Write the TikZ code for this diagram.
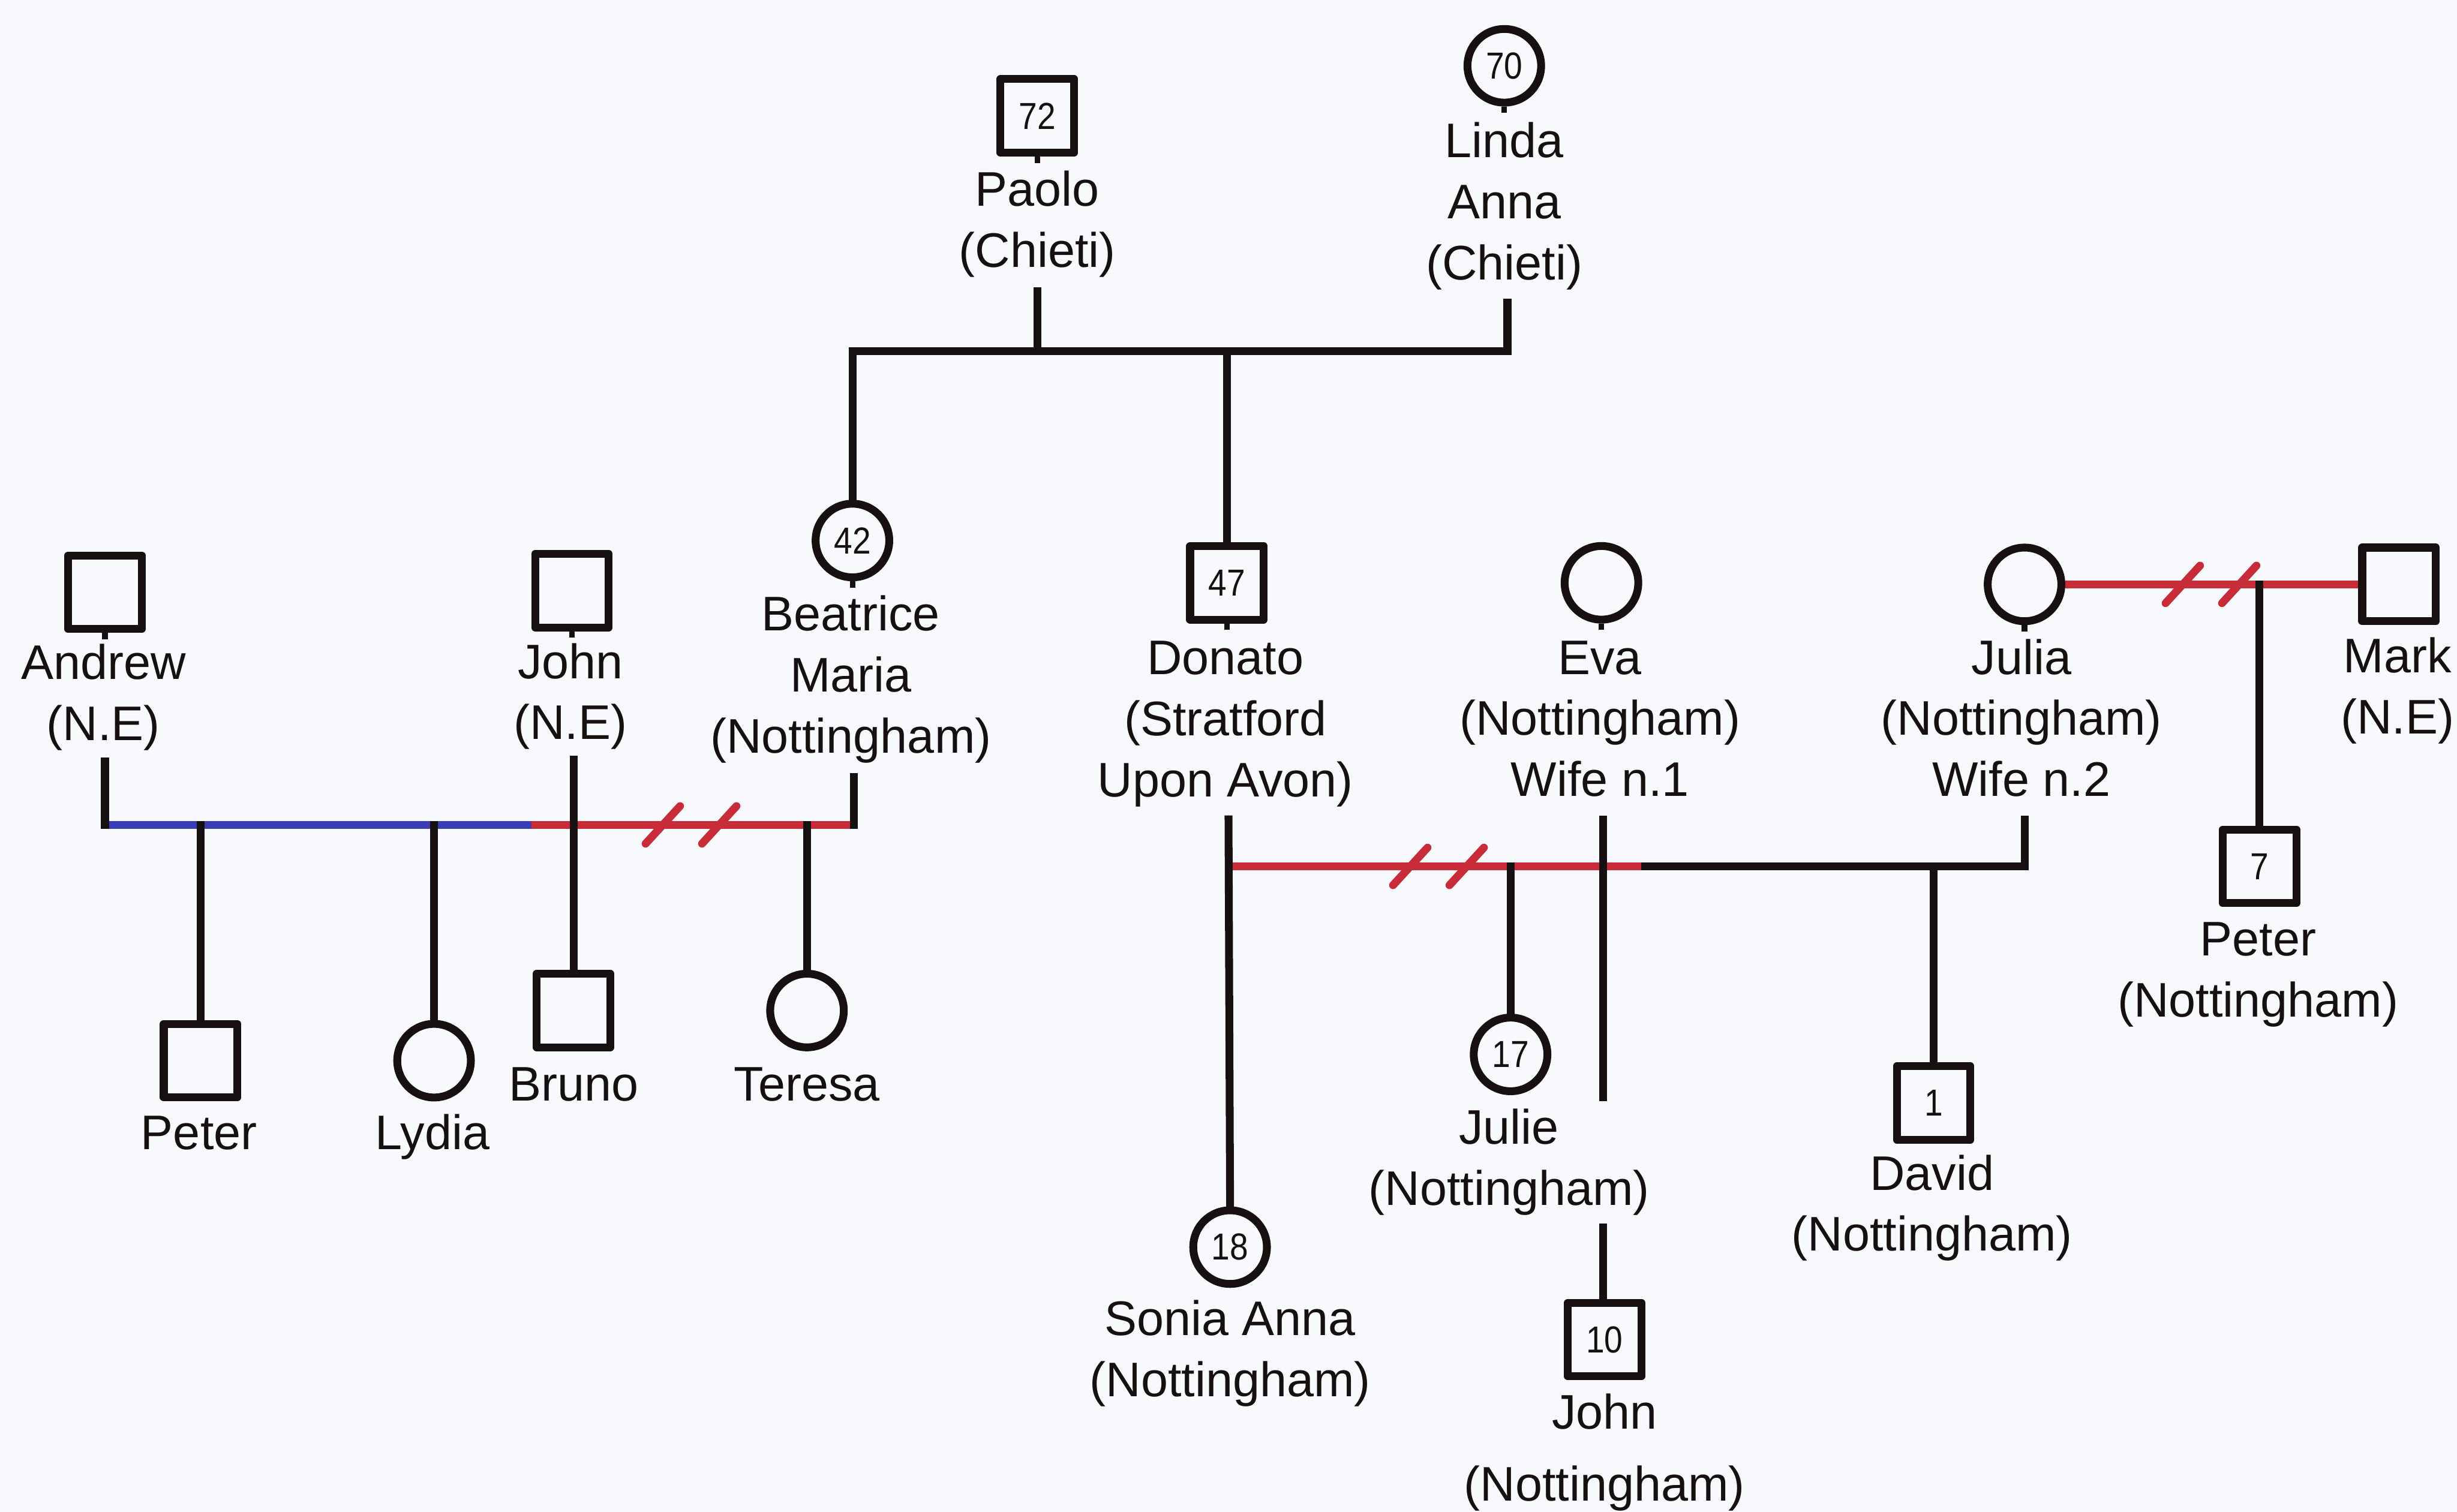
\documentclass[tikz,border=0pt]{standalone}
\usepackage{fontspec}
\setmainfont{Liberation Sans}
\newfontfamily\agefont{Liberation Sans}[FakeStretch=0.88]

\definecolor{pagebg}{RGB}{248,249,252}
\definecolor{ink}{RGB}{22,16,16}
\definecolor{divorced}{RGB}{200,44,56}
\definecolor{firstunion}{RGB}{58,62,178}

\pgfdeclarelayer{paper}
\pgfdeclarelayer{lines}
\pgfsetlayers{paper,lines,main}

% several centred lines whose baseline is the first line's
\newcommand{\namestack}[1]{\begin{tabular}[t]{@{}c@{}}#1\end{tabular}}
% the double slash of a separated couple
\newcommand{\divorcemark}[1]{\draw[hatch] ([shift={(-11,12)}]#1) -- ([shift={(11,-12)}]#1);}

\tikzset{
  person/.style={draw=ink, line width=5pt, fill=pagebg, inner sep=0pt,
    minimum size=47pt, text=ink, line join=round,
    font=\agefont\fontsize{24}{24}\selectfont},
  male/.style={person, rectangle},
  female/.style={person, circle},
  who/.style={anchor=base, inner sep=0pt, text=ink,
    font=\fontsize{31}{39}\selectfont},
  link/.style={draw=ink, line width=5pt, line cap=rect},
  firstlink/.style={draw=firstunion, line width=5pt},
  split/.style={draw=divorced, line width=5pt},
  hatch/.style={draw=divorced, line width=5pt, line cap=round},
  nub/.style={draw=ink, line width=3.5pt}
}

\begin{document}
\begin{tikzpicture}[x=1pt,y=-1pt]
\begin{pgfonlayer}{paper}
  \fill[pagebg] (0,0) rectangle (1568,965);
\end{pgfonlayer}
\useasboundingbox (0,0) rectangle (1568,965);

% ---------- people ----------
\node[male]   (paolo)    at (662,74)   {72};
\node[female] (linda)    at (960,42)   {70};
\node[female] (beatrice) at (544,345)  {42};
\node[male]   (donato)   at (783,372)  {47};
\node[male]   (andrew)   at (67,378)   {};
\node[male]   (johnNE)   at (365,377)  {};
\node[female] (eva)      at (1022,372) {};
\node[female] (julia)    at (1292,373) {};
\node[male]   (mark)     at (1531,373) {};
\node[male]   (peterA)   at (128,677)  {};
\node[female] (lydia)    at (277,677)  {};
\node[male]   (bruno)    at (366,645)  {};
\node[female] (teresa)   at (515,645)  {};
\node[female] (julie)    at (964,673)  {17};
\node[male]   (david)    at (1234,704) {1};
\node[female] (sonia)    at (785,796)  {18};
\node[male]   (johnB)    at (1024,855) {10};
\node[male]   (peterB)   at (1442,553) {7};

% small stubs under the symbols
\foreach \p in {paolo,linda,beatrice,donato,andrew,johnNE,eva,julia}
  \draw[nub] (\p.south) -- ++(0,4);

% ---------- names ----------
\node[who] (paolo-l)    at (662,131.5)  {\namestack{Paolo\\(Chieti)}};
\node[who] (linda-l)    at (960,100.5)  {\namestack{Linda\\Anna\\(Chieti)}};
\node[who] (beatrice-l) at (543,402.5)  {\namestack{Beatrice\\Maria\\(Nottingham)}};
\node[who] (donato-l)   at (782,430.5)  {\namestack{Donato\\(Stratford\\Upon Avon)}};
\node[who] (andrew-l)   at (66,433.5)   {\namestack{Andrew\\(N.E)}};
\node[who] (johnNE-l)   at (364,433)    {\namestack{John\\(N.E)}};
\node[who] (eva-l)      at (1021,430.3) {\namestack{Eva\\(Nottingham)\\Wife n.1}};
\node[who] (julia-l)    at (1290,430.3) {\namestack{Julia\\(Nottingham)\\Wife n.2}};
\node[who] (mark-l)     at (1530,429.5) {\namestack{Mark\\(N.E)}};
\node[who] (peterB-l)   at (1441,610)   {\namestack{Peter\\(Nottingham)}};
\node[who] (peterA-l)   at (127,733.5)  {Peter};
\node[who] (lydia-l)    at (276,733.5)  {Lydia};
\node[who] (bruno-l)    at (366,702.5)  {Bruno};
\node[who] (teresa-l)   at (515,702.5)  {Teresa};
\node[who, fill=pagebg] (julie-l) at (963,730.3) {\namestack{Julie\\(Nottingham)}};
\node[who] (david-l)    at (1233,759.5) {\namestack{David\\(Nottingham)}};
\node[who] (sonia-l)    at (785,852.5)  {\namestack{Sonia Anna\\(Nottingham)}};
\node[who] (johnB-l)    at (1024,912)   {\namestack{John\\[7pt](Nottingham)}};

% ---------- line end points ----------
\coordinate (paoloDrop)  at (662,186);
\coordinate (paoloJoin)  at (662,224);
\coordinate (lindaDrop)  at (962,193);
\coordinate (gpR)        at (962,224);
\coordinate (sibJoin)    at (783,224);

\coordinate (andrewDrop) at (67,486);
\coordinate (beaDrop)    at (545,496);
\coordinate (abL)        at (67,526.5);
\coordinate (abMid)      at (339,526.5);
\coordinate (abR)        at (545,526.5);
\coordinate (johnNEDrop) at (366,485);
\coordinate (abH1)       at (423,526.5);
\coordinate (abH2)       at (459,526.5);

\coordinate (jmH1)       at (1393,373);
\coordinate (jmH2)       at (1429,373);

\coordinate (donatoDrop) at (784,523);
\coordinate (evaDrop)    at (1023,523);
\coordinate (juliaDrop)  at (1292,523);
\coordinate (dJoin)      at (784,553);
\coordinate (dSplit)     at (1050,553);
\coordinate (dR)         at (1292,553);
\coordinate (deH1)       at (900,553);
\coordinate (deH2)       at (936,553);

% ---------- connectors ----------
\begin{pgfonlayer}{lines}
  % Paolo and Linda Anna
  \draw[link] (beatrice.north) |- (gpR) -- (lindaDrop);
  \draw[link] (paoloDrop) -- (paoloJoin);
  \draw[link] (sibJoin) -- (donato.north);

  % Andrew, Beatrice and John
  \draw[firstlink] (abL) -- (abMid);
  \draw[split] (abMid) -- (abR);
  \divorcemark{abH1}
  \divorcemark{abH2}
  \draw[link] (andrewDrop) -- (abL);
  \draw[link] (beaDrop) -- (abR);
  \draw[link] (peterA.north) -- (peterA.north |- abL);
  \draw[link] (lydia.north) -- (lydia.north |- abL);
  \draw[link] (teresa.north) -- (teresa.north |- abL);
  \draw[link] (johnNEDrop) -- (bruno.north);

  % Julia and Mark
  \draw[split] (julia.east) -- (mark.west);
  \divorcemark{jmH1}
  \divorcemark{jmH2}
  \draw[link] (peterB.north) -- (peterB.north |- julia.east);

  % Donato, Eva and Julia
  \draw[split] (dJoin) -- (dSplit);
  \divorcemark{deH1}
  \divorcemark{deH2}
  \draw[link] (dSplit) -- (dR) -- (juliaDrop);
  \draw[link] (donatoDrop) -- (sonia.north);
  \draw[link] (evaDrop) -- (evaDrop |- johnB.north);
  \draw[link] (julie.north) -- (julie.north |- dJoin);
  \draw[link] (david.north) -- (david.north |- dJoin);
\end{pgfonlayer}
\end{tikzpicture}
\end{document}
